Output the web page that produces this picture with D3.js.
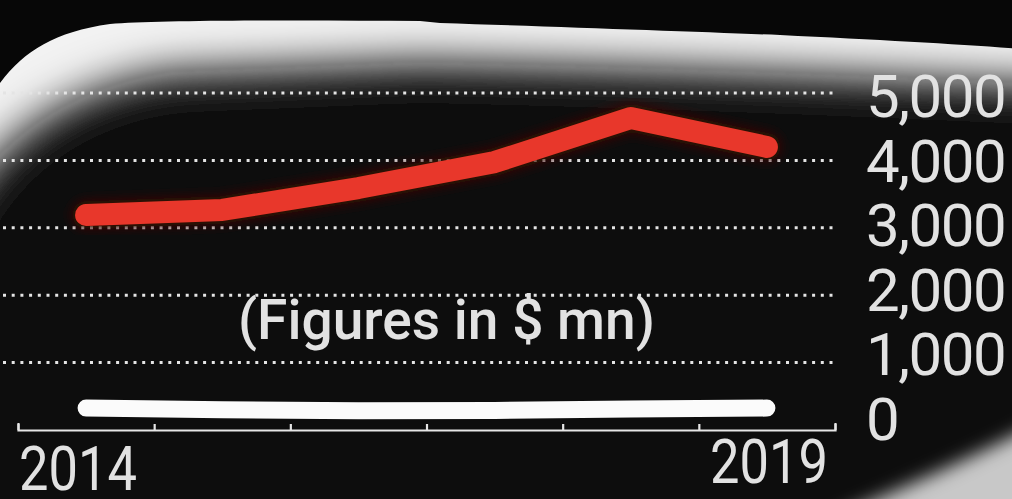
<!DOCTYPE html>
<html>
<head>
<meta charset="utf-8">
<script src="https://cdn.jsdelivr.net/npm/d3@7"></script>
<style>
  html, body { margin: 0; padding: 0; background: #070707; }
  svg { display: block; }
</style>
</head>
<body>
<svg id="chart" width="1012" height="499"></svg>
<script>
// Annual series, 2014–2019 (figures in $ mn)
const years = ["2014", "2015", "2016", "2017", "2018", "2019"];
const redValues = [3190, 3265, 3590, 3975, 4630, 4200];
const whiteValues = [325, 300, 285, 290, 310, 325];
const gridTicks = [1000, 2000, 3000, 4000, 5000];
const valueLabels = [0, 1000, 2000, 3000, 4000, 5000];
const subtitle = "(Figures in $ mn)";

const W = 1012, H = 499;
const svg = d3.select("#chart");
const defs = svg.append("defs");

// background
svg.append("rect").attr("width", W).attr("height", H).attr("fill", "#070707");

// --- glowing bezel frame along the top edge ---
defs.append("clipPath").attr("id", "bezelClip")
  .append("path")
  .attr("d", "M-10,100 L0,83 C25,50 55,32 110,24 C160,20 300,20 420,21 L440,23 C560,27 700,32 780,35 C880,40 960,44 1020,49 L1020,520 L-10,520 Z");

defs.append("filter").attr("id", "softBig")
  .attr("x", "-30%").attr("y", "-30%").attr("width", "160%").attr("height", "160%")
  .append("feGaussianBlur").attr("stdDeviation", 22);

defs.append("filter").attr("id", "softEdge")
  .append("feGaussianBlur").attr("stdDeviation", 0.8);

defs.append("filter").attr("id", "softSmall")
  .attr("x", "-20%").attr("y", "-20%").attr("width", "140%").attr("height", "140%")
  .append("feGaussianBlur").attr("stdDeviation", 6);

defs.append("filter").attr("id", "softCorner")
  .attr("x", "-30%").attr("y", "-30%").attr("width", "160%").attr("height", "160%")
  .append("feGaussianBlur").attr("stdDeviation", 9);

const bezel = svg.append("g").attr("clip-path", "url(#bezelClip)");
const bezelInner = bezel.append("g").attr("filter", "url(#softEdge)");
bezelInner.append("rect").attr("x", -20).attr("y", -20).attr("width", W + 40).attr("height", H + 40).attr("fill", "#f2f2f2");
bezelInner.append("path")
  .attr("d", "M-70,270 C-30,160 45,92 170,72 L420,62 C700,68 900,78 1100,86 L1100,640 L-70,640 Z")
  .attr("fill", "#070707")
  .attr("filter", "url(#softBig)");

// lit corner at the bottom right
svg.append("path")
  .attr("d", "M820,525 C880,496 950,470 1040,422 L1040,530 Z")
  .attr("fill", "#c8c8c8")
  .attr("filter", "url(#softCorner)");

// --- scales ---
const x = d3.scaleBand().domain(years).range([18, 835]);
const xc = d => x(d) + x.bandwidth() / 2;
const y = d3.scaleLinear().domain([0, 5000]).range([430, 93]);
const labelY = d3.scaleLinear().domain([0, 5000]).range([440, 117]);

// dotted gridlines
svg.append("g").selectAll("line")
  .data(gridTicks)
  .join("line")
  .attr("x1", 3).attr("x2", 838)
  .attr("y1", d => y(d)).attr("y2", d => y(d))
  .attr("stroke", "#e4e4e4")
  .attr("stroke-width", 3)
  .attr("stroke-dasharray", "3 5.7");

// x axis with boundary ticks pointing upward
const edges = d3.scaleLinear().domain([0, years.length]).range([18, 835]);
const xAxis = svg.append("g")
  .attr("transform", `translate(0,${y(0)})`)
  .call(d3.axisTop(edges).ticks(years.length).tickSize(6).tickSizeOuter(7).tickFormat(""));
xAxis.selectAll("path, line").attr("stroke", "#e6e6e6").attr("stroke-width", 2.2);

// value labels on the right
svg.append("g").selectAll("text")
  .data(valueLabels)
  .join("text")
  .attr("x", 866)
  .attr("y", d => labelY(d))
  .attr("font-family", "Roboto, 'Liberation Sans', sans-serif")
  .attr("font-size", 60)
  .attr("fill", "#e2e2e2")
  .attr("letter-spacing", -1.5)
  .text(d => d3.format(",")(d));

// year labels at the two ends
svg.append("text")
  .attr("x", 19).attr("y", 490)
  .attr("font-family", "Roboto, 'Liberation Sans', sans-serif")
  .attr("font-size", 61).attr("fill", "#e2e2e2")
  .attr("textLength", 118)
  .attr("lengthAdjust", "spacingAndGlyphs")
  .text(years[0]);
svg.append("text")
  .attr("x", 828).attr("y", 483)
  .attr("text-anchor", "end")
  .attr("font-family", "Roboto, 'Liberation Sans', sans-serif")
  .attr("font-size", 61).attr("fill", "#e2e2e2")
  .attr("textLength", 118)
  .attr("lengthAdjust", "spacingAndGlyphs")
  .text(years[years.length - 1]);

// series lines
const line = d3.line().x((d, i) => xc(years[i])).y(d => y(d));

svg.append("path")
  .datum(whiteValues)
  .attr("d", line)
  .attr("fill", "none")
  .attr("stroke", "#fbfbfb")
  .attr("stroke-width", 17)
  .attr("stroke-linecap", "round")
  .attr("stroke-linejoin", "round");

svg.append("path")
  .datum(redValues)
  .attr("d", line)
  .attr("fill", "none")
  .attr("stroke", "#3a0806")
  .attr("stroke-width", 28)
  .attr("stroke-linecap", "round")
  .attr("stroke-linejoin", "round")
  .attr("filter", "url(#softSmall)");

svg.append("path")
  .datum(redValues)
  .attr("d", line)
  .attr("fill", "none")
  .attr("stroke", "#e8372b")
  .attr("stroke-width", 22)
  .attr("stroke-linecap", "round")
  .attr("stroke-linejoin", "round");

// unit note
svg.append("text")
  .attr("x", 238).attr("y", 339)
  .attr("font-family", "Roboto, 'Liberation Sans', sans-serif")
  .attr("font-weight", 500)
  .attr("font-size", 55)
  .attr("fill", "#e2e2e2")
  .attr("textLength", 417)
  .attr("lengthAdjust", "spacingAndGlyphs")
  .text(subtitle);
</script>
</body>
</html>
